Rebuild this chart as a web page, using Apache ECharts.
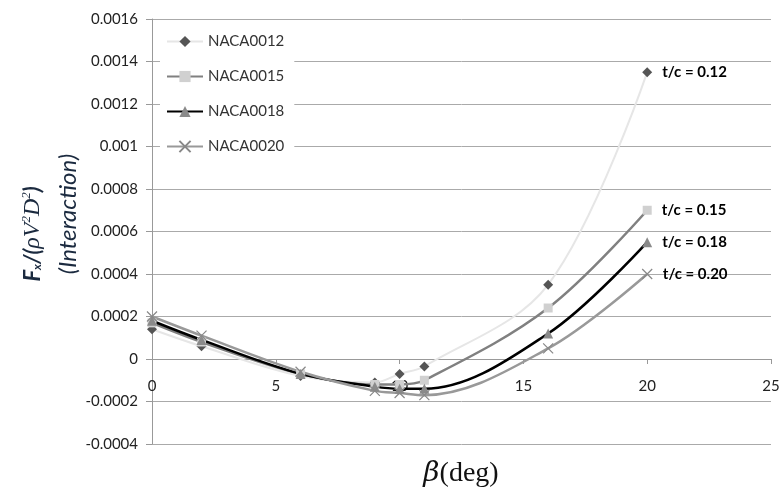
<!DOCTYPE html>
<html>
<head>
<meta charset="utf-8">
<script src="https://cdn.jsdelivr.net/npm/echarts@6/dist/echarts.min.js"></script>
<style>
  html, body { margin: 0; padding: 0; background: #fff; }
  #chart { width: 784px; height: 492px; }
</style>
</head>
<body>
<div id="chart"></div>
<script>
// beta (deg)
let betaDeg = [0, 2, 6, 9, 10, 11, 16, 20];

let naca0012 = [0.00014, 0.00006, -0.00008, -0.00011, -0.00007, -0.000035, 0.00035, 0.00135];
let naca0015 = [0.00017, 0.00008, -0.00007, -0.00012, -0.00012, -0.0001, 0.00024, 0.0007];
let naca0018 = [0.00018, 0.00009, -0.00007, -0.00013, -0.00014, -0.00014, 0.00012, 0.00055];
let naca0020 = [0.0002, 0.00011, -0.00006, -0.00015, -0.00016, -0.00017, 0.00005, 0.0004];

let seriesNames = ['NACA0012', 'NACA0015', 'NACA0018', 'NACA0020'];
let endLabels = ['t/c = 0.12', 't/c = 0.15', 't/c = 0.18', 't/c = 0.20'];

let labelFont = 'Lato, "Open Sans", sans-serif';
let crossPath = 'path://M0,0L10,10M10,0L0,10';

function pairs(values) {
    return betaDeg.map(function (b, i) { return [b, values[i]]; });
}

function makeSeries(idx, values, symbol, symbolSize, lineColor, markColor, lineWidth) {
    let last = values.length - 1;
    return {
        name: seriesNames[idx],
        type: 'line',
        smooth: 0.35,
        data: pairs(values),
        symbol: symbol,
        symbolSize: symbolSize,
        showAllSymbol: true,
        lineStyle: { color: lineColor, width: lineWidth },
        itemStyle: {
            color: markColor,
            borderColor: markColor,
            borderWidth: symbol === crossPath ? 1.2 : 0
        },
        label: {
            show: true,
            position: 'right',
            distance: 10,
            color: '#000',
            fontFamily: labelFont,
            fontWeight: 'bold',
            fontSize: 15,
            formatter: function (p) {
                return p.dataIndex === last ? endLabels[idx] : '';
            }
        },
        emphasis: { disabled: true }
    };
}

let chart = echarts.init(document.getElementById('chart'), null, { renderer: 'canvas' });

let option = {
    animation: false,
    backgroundColor: '#fff',
    grid: { left: 152, right: 13, top: 19, bottom: 48, containLabel: false },
    legend: {
        orient: 'vertical',
        left: 160,
        top: 30,
        itemWidth: 36,
        itemHeight: 14,
        itemGap: 20,
        padding: [4, 10, 6, 6],
        backgroundColor: '#fff',
        textStyle: { fontFamily: labelFont, fontSize: 15, color: '#333' },
        data: seriesNames
    },
    xAxis: {
        type: 'value',
        min: 0,
        max: 25,
        interval: 5,
        // axis sits on y = 0, 85px above the plot bottom
        offset: -85,
        axisLine: { onZero: false, lineStyle: { color: '#999', width: 1 } },
        axisTick: { show: true, length: 5, lineStyle: { color: '#999' } },
        axisLabel: { margin: 20, fontFamily: labelFont, fontSize: 15, color: '#222' },
        splitLine: { show: false }
    },
    yAxis: {
        type: 'value',
        min: -0.0004,
        max: 0.0016,
        interval: 0.0002,
        axisLine: { show: true, onZero: false, lineStyle: { color: '#999', width: 1 } },
        axisTick: { show: true, length: 6, lineStyle: { color: '#999' } },
        axisLabel: {
            margin: 14,
            fontFamily: labelFont,
            fontSize: 15,
            color: '#222',
            formatter: function (v) { return String(+v.toFixed(4)); }
        },
        splitLine: { show: true, lineStyle: { color: '#aaa', width: 1 } }
    },
    graphic: [
        {
            type: 'text',
            x: 33,
            y: 234,
            rotation: Math.PI / 2,
            style: {
                text: '{a|F}{s|x}{a|/(}{g|ρV}{p|2}{g|D}{p|2}{a|)}',
                align: 'center',
                verticalAlign: 'middle',
                fill: '#1b2a3f',
                rich: {
                    a: { fontFamily: labelFont, fontStyle: 'italic', fontWeight: 'bold', fontSize: 22, fill: '#1b2a3f', lineHeight: 26 },
                    s: { fontFamily: labelFont, fontStyle: 'italic', fontWeight: 'bold', fontSize: 12, fill: '#1b2a3f', padding: [8, 0, 0, 0] },
                    g: { fontFamily: '"Liberation Serif", serif', fontStyle: 'italic', fontSize: 24, fill: '#1b2a3f' },
                    p: { fontFamily: '"Liberation Serif", serif', fontStyle: 'italic', fontSize: 13, fill: '#1b2a3f', padding: [0, 0, 12, 0] }
                }
            }
        },
        {
            type: 'text',
            x: 68,
            y: 214,
            rotation: Math.PI / 2,
            style: {
                text: '(Interaction)',
                align: 'center',
                verticalAlign: 'middle',
                fontFamily: labelFont,
                fontStyle: 'italic',
                fontSize: 24,
                fill: '#1b2a3f'
            }
        },
        {
            type: 'text',
            x: 461,
            y: 474,
            style: {
                text: '{b|β}{d|(deg)}',
                align: 'center',
                verticalAlign: 'middle',
                rich: {
                    b: { fontFamily: '"DejaVu Serif", serif', fontStyle: 'italic', fontSize: 28, fill: '#111' },
                    d: { fontFamily: '"Liberation Serif", serif', fontSize: 28, fill: '#111' }
                }
            }
        }
    ],
    series: [
        makeSeries(0, naca0012, 'diamond', 10, '#e6e6e6', '#555', 2),
        makeSeries(1, naca0015, 'rect', 9, '#808080', '#d0d0d0', 2.5),
        makeSeries(2, naca0018, 'triangle', 10, '#000', '#8a8a8a', 2.5),
        makeSeries(3, naca0020, crossPath, 10, '#999', '#888', 2.5)
    ]
};

chart.setOption(option);
</script>
</body>
</html>
